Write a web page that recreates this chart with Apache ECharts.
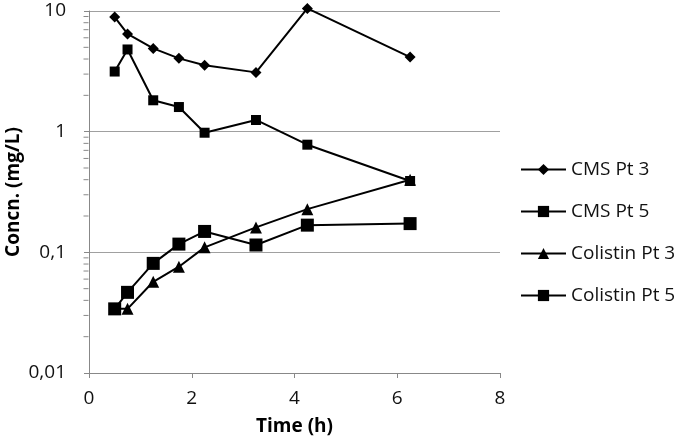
<!DOCTYPE html>
<html>
<head>
<meta charset="utf-8">
<script src="https://cdn.jsdelivr.net/npm/echarts@6/dist/echarts.min.js"></script>
<style>html,body{margin:0;padding:0;background:#fff}#c{width:680px;height:438px}</style>
</head>
<body>
<div id="c"></div>
<script>
const timeH = [0.5, 0.75, 1.25, 1.75, 2.25, 3.25, 4.25, 6.25];
const cmsPt3 = [8.9, 6.45, 4.9, 4.05, 3.55, 3.1, 10.5, 4.15];
const cmsPt5 = [3.15, 4.8, 1.82, 1.6, 0.98, 1.25, 0.78, 0.39];
const colistinPt3 = [0.034, 0.034, 0.057, 0.076, 0.11, 0.161, 0.228, 0.40];
const colistinPt5 = [0.034, 0.0466, 0.081, 0.117, 0.149, 0.115, 0.168, 0.173];
const seriesNames = ['CMS Pt 3', 'CMS Pt 5', 'Colistin Pt 3', 'Colistin Pt 5'];
const xTicks = [0, 2, 4, 6, 8];
const yTicks = [0.01, 0.1, 1, 10];
const yMinorTicks = [0.02,0.03,0.04,0.05,0.06,0.07,0.08,0.09,0.2,0.3,0.4,0.5,0.6,0.7,0.8,0.9,2,3,4,5,6,7,8,9];

const FONT = '"Open Sans", "Noto Sans", sans-serif';
const pair = (xs, ys) => xs.map((x, i) => [x, ys[i]]);
const fmt = v => String(Number(Number(v).toPrecision(3))).replace('.', ',');

const lineStyle = {color: '#000', width: 2};
const chart = echarts.init(document.getElementById('c'), null, {renderer: 'canvas'});
chart.setOption({
  animation: false,
  backgroundColor: '#fff',
  grid: {left: 89, right: 180, top: 11, bottom: 65, containLabel: false, outerBoundsMode: 'none'},
  xAxis: {
    type: 'value', min: xTicks[0], max: xTicks[xTicks.length - 1], interval: 2,
    name: 'Time (h)', nameLocation: 'middle', nameGap: 44, nameMoveOverlap: false,
    nameTextStyle: {fontFamily: FONT, fontSize: 19, fontWeight: 'bold', color: '#000'},
    axisLine: {show: true, lineStyle: {color: '#888', width: 1}},
    axisTick: {show: true, inside: false, length: 5, lineStyle: {color: '#888'}},
    axisLabel: {fontFamily: FONT, fontSize: 19, color: '#111', margin: 16},
    splitLine: {show: false}
  },
  yAxis: {
    type: 'log', logBase: 10, min: yTicks[0], max: yTicks[yTicks.length - 1],
    name: 'Concn. (mg/L)', nameLocation: 'middle', nameGap: 66, nameMoveOverlap: false,
    nameTextStyle: {fontFamily: FONT, fontSize: 19, fontWeight: 'bold', color: '#000'},
    axisLine: {show: true, lineStyle: {color: '#888', width: 1}},
    axisTick: {show: true, inside: false, length: 5, lineStyle: {color: '#888'}},
    axisLabel: {fontFamily: FONT, fontSize: 19, color: '#111', margin: 23, formatter: fmt},
    splitLine: {show: true, lineStyle: {color: '#a0a0a0', width: 1}}
  },
  legend: {
    orient: 'vertical', left: 515, top: 155,
    itemWidth: 45, itemHeight: 14, itemGap: 23,
    textStyle: {fontFamily: FONT, fontSize: 19, color: '#111'},
    data: seriesNames
  },
  series: [
    {
      name: 'minorTicks', type: 'scatter', silent: true, clip: false, z: 5,
      data: yMinorTicks.map(v => [0, v]),
      symbol: 'rect', symbolSize: [5, 1], symbolOffset: [-3, 0],
      itemStyle: {color: '#888', opacity: 1}, emphasis: {disabled: true}
    },
    {name: seriesNames[0], type: 'line', data: pair(timeH, cmsPt3), symbol: 'diamond', symbolSize: 11,
     clip: false, lineStyle, itemStyle: {color: '#000'}, z: 3},
    {name: seriesNames[1], type: 'line', data: pair(timeH, cmsPt5), symbol: 'rect', symbolSize: 10,
     clip: false, lineStyle, itemStyle: {color: '#000'}, z: 3},
    {name: seriesNames[2], type: 'line', data: pair(timeH, colistinPt3), symbol: 'triangle', symbolSize: 12,
     clip: false, lineStyle, itemStyle: {color: '#000'}, z: 3},
    {name: seriesNames[3], type: 'line', data: pair(timeH, colistinPt5), symbol: 'rect', symbolSize: 13,
     clip: false, lineStyle, itemStyle: {color: '#000'}, z: 4}
  ]
});
</script>
</body>
</html>
